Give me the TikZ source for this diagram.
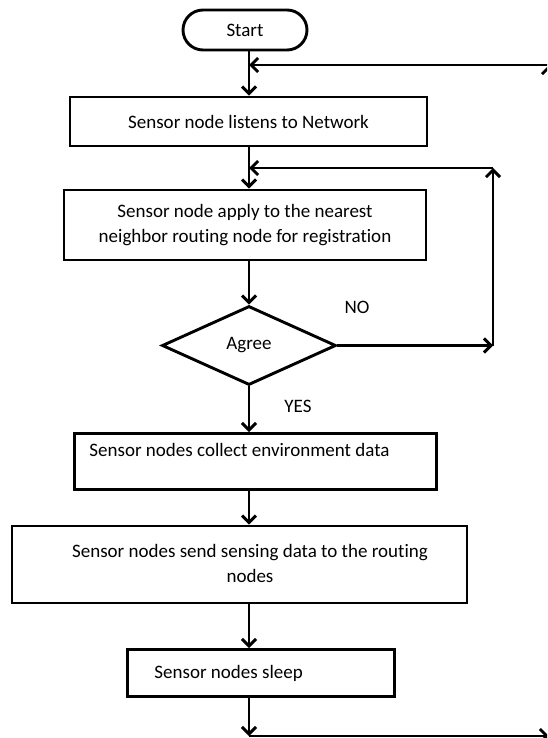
\documentclass[tikz,border=0pt]{standalone}
\usepackage{fontspec}
\setmainfont{Carlito}[Ligatures=NoCommon]
\usetikzlibrary{arrows.meta,shapes.geometric}
\begin{document}
\begin{tikzpicture}[x=1pt,y=-1pt,
  line width=2.9pt,
  txt/.style={font=\fontsize{19}{25}\selectfont},
  box/.style={draw, rectangle, inner sep=0pt, align=center, txt},
  arr/.style={-{Straight Barb[length=7pt,width=14pt]}},
  lbl/.style={txt}]
\useasboundingbox (0,0) rectangle (547,738);
\clip (0,0) rectangle (547,738);
\coordinate (col) at (249,0);
% nodes
\node[box, rounded corners=20pt, minimum width=124pt, minimum height=40pt] (start) at (245,30) {Start};
\node[box, minimum width=357pt, minimum height=49pt] (b1) at (248.5,121.5) {Sensor node listens to Network};
\node[box, minimum width=362pt, minimum height=70pt] (b2) at (245,225) {Sensor node apply to the nearest\\neighbor routing node for registration};
\node[draw, diamond, aspect=2.2, minimum width=174pt, minimum height=79pt, inner sep=0pt, txt] (d) at (249,345.5) {Agree};
\node[box, anchor=north west, inner xsep=15pt, inner ysep=10pt, text height=13pt, text depth=23pt] (b3) at (73,432) {\makebox[332pt][l]{Sensor nodes collect environment data}};
\node[box, minimum width=455pt, minimum height=77pt] (b4) at (239.5,564.5) {\hspace*{21pt}\begin{tabular}{@{}c@{}}Sensor nodes send sensing data to the routing\\nodes\end{tabular}};
\node[box, anchor=north west, inner xsep=27pt, inner ysep=0pt, minimum height=47pt] (b5) at (126,648) {\makebox[213pt][l]{Sensor nodes sleep}};
\node[lbl] (no) at (357,307) {NO};
\node[lbl] (yes) at (298,406) {YES};
% coordinates
\coordinate (c1) at (249,65);
\coordinate (r1) at (549,65);
\coordinate (nr) at (493,345.5);
\coordinate (nt) at (493,168);
\coordinate (m2) at (249,168);
\coordinate (cb) at (249,736);
\coordinate (rb) at (549,736);
% connectors
\draw[arr] (start.south -| col) -- (b1.north -| col);
\draw[arr] (r1) -- (c1);
\draw[arr] (b1.south -| col) -- (b2.north -| col);
\draw[arr] (b2.south -| col) -- (d.north);
\draw[arr] (d.east) -- (nr);
\draw[arr] (nr) -- (nt);
\draw[arr] (nt) -- (m2);
\draw[arr] (d.south) -- (b3.north -| col);
\draw[arr] (b3.south -| col) -- (b4.north -| col);
\draw[arr] (b4.south -| col) -- (b5.north -| col);
\draw[arr] (b5.south -| col) -- (cb);
\draw[arr] (cb) -- (rb);
\draw[arr] (rb) -- (r1);
\end{tikzpicture}
\end{document}
